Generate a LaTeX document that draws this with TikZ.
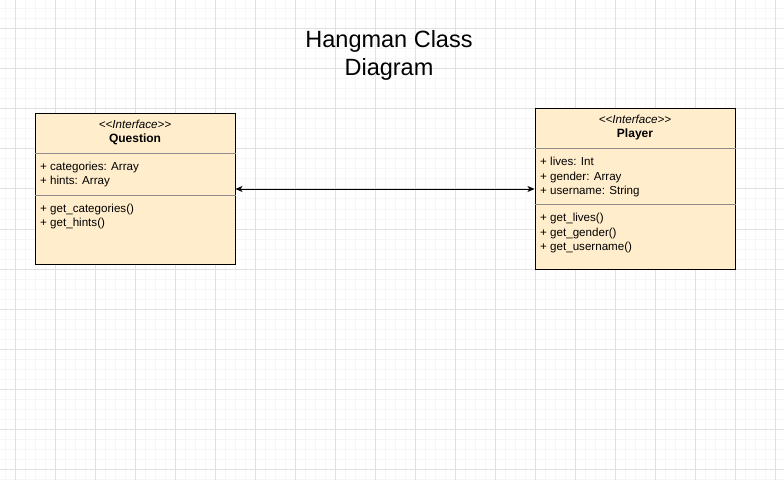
\documentclass[tikz,border=0pt]{standalone}
\usepackage{fontspec}
\setmainfont{Liberation Sans}
\usepackage{xcolor}
\usetikzlibrary{arrows.meta}
\definecolor{classfill}{RGB}{255,237,204}
\definecolor{gridmajor}{RGB}{224,224,224}
\definecolor{gridminor}{RGB}{246,246,246}

\begin{document}
\begin{tikzpicture}[x=1pt, y=1pt,
  classbox/.style={draw, fill=classfill, line width=1pt, minimum width=200pt, inner sep=0pt},
  divider/.style={draw=gray!90, line width=0.9pt},
  member/.style={anchor=base west, align=left, inner sep=0pt, font=\fontsize{11.6}{14.2}\selectfont},
  stereo/.style={anchor=base, inner sep=0pt, font=\fontsize{11.6}{14}\selectfont\itshape},
  cname/.style={anchor=base, inner sep=0pt, font=\fontsize{12}{14}\selectfont\bfseries}]
\useasboundingbox [fill=white] (0,0) rectangle (784,480);
\draw [gridminor, line width=1pt, step=10, shift={(5,1)}] (-5,-1) grid (779,479);
\draw [gridmajor, line width=1pt, step=40, shift={(15,11)}] (-15,-11) grid (769,469);

\node (T) at (389,404) [anchor=base, align=center, font=\fontsize{23.5}{28.3}\selectfont] {Hangman Class\\Diagram};

\node (Q) at (135,291) [classbox, minimum height=150pt] {};
\draw [divider] (Q.west |- 0,327) -- (Q.east |- 0,327);
\draw [divider] (Q.west |- 0,285) -- (Q.east |- 0,285);
\node (QI) at (135,351) [stereo] {<\kern0pt<Interface>\kern0pt>};
\node (QN) at (135,337) [cname] {Question};
\node (QA) at (40,295) [member] {+ categories: Array\\+ hints: Array};
\node (QM) at (40,253.3) [member] {+ get\_categories()\\+ get\_hints()};

\node (P) at (635,291) [classbox, minimum height=160pt] {};
\draw [divider] (P.west |- 0,332) -- (P.east |- 0,332);
\draw [divider] (P.west |- 0,276) -- (P.east |- 0,276);
\node (PI) at (635,356) [stereo] {<\kern0pt<Interface>\kern0pt>};
\node (PN) at (635,342) [cname] {Player};
\node (PA) at (540,285.7) [member] {+ lives: Int\\+ gender: Array\\+ username: String};
\node (PM) at (540,229.7) [member] {+ get\_lives()\\+ get\_gender()\\+ get\_username()};

\draw [{Stealth[length=7pt,width=6pt,inset=2pt]}-{Stealth[length=7pt,width=6pt,inset=2pt]}, line width=0.9pt] (Q) -- (P);
\end{tikzpicture}
\end{document}
